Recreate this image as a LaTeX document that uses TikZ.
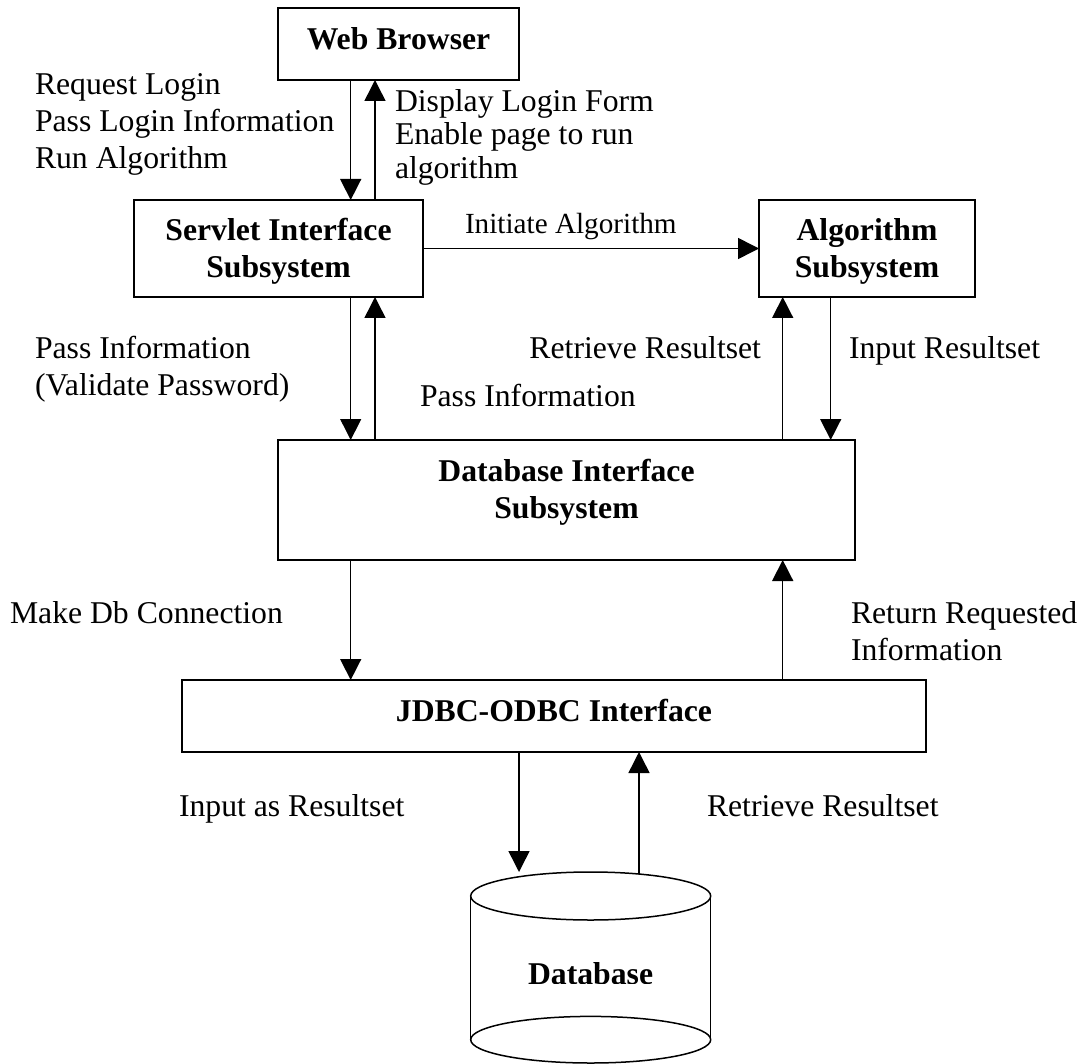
\documentclass[tikz,border=0pt]{standalone}
\usepackage{fontspec}
\setmainfont{Liberation Serif}
\usetikzlibrary{arrows.meta}
\newcommand\fsz[1]{\fontsize{31.7pt}{#1}\selectfont}
\newcommand\boxlines[2]{\raisebox{#1}[0pt][0pt]{\begin{tabular}[t]{@{}c@{}}#2\end{tabular}}}
\newcommand\leftlines[1]{\begin{tabular}[t]{@{}l@{}}#1\end{tabular}}
\tikzset{
  box/.style={draw, line width=1.5pt, inner sep=0pt, outer sep=0pt, font=\fsz{36.5pt}\bfseries},
  lbl/.style={inner sep=0pt, outer sep=0pt, anchor=base west},
  arr/.style={line width=1.5pt, -{Triangle[length=21pt,width=21pt]}},
  plain/.style={line width=1.5pt}
}
\begin{document}
\begin{tikzpicture}[x=1pt, y=-1pt, font=\fsz{36.7pt}]
\useasboundingbox (0,0) rectangle (1086,1064);

% boxes
\node[box, minimum width=241pt, minimum height=72pt] (wb) at (398.5,44) {\boxlines{-5.3pt}{Web Browser\hspace{12pt}}};
\node[box, minimum width=289pt, minimum height=97pt] (sis) at (278.5,248.5) {\boxlines{7.5pt}{Servlet Interface\\Subsystem}};
\node[box, minimum width=216pt, minimum height=97pt] (alg) at (867,248.5) {\boxlines{7.5pt}{Algorithm\\Subsystem}};
\node[box, minimum width=577pt, minimum height=120pt] (dbi) at (566.5,500) {\boxlines{18.3pt}{Database Interface\\Subsystem}};
\node[box, minimum width=744pt, minimum height=72pt] (jdbc) at (554,716) {\boxlines{-5.7pt}{JDBC-ODBC Interface}};

% database cylinder
\draw[plain] (470.7,896) -- (470.7,1039.7);
\draw[plain] (710.7,896) -- (710.7,1039.7);
\draw[plain] (590.7,896) ellipse [x radius=120, y radius=24];
\draw[plain] (590.7,1039.7) ellipse [x radius=120, y radius=23.3];
\begin{scope}
  \clip (480,940) rectangle (700,983.3);
  \node[inner sep=0pt, outer sep=0pt, anchor=base, font=\fsz{36pt}\bfseries] (db) at (590.6,984) {Database};
\end{scope}

% columns for connectors
\coordinate (xa) at (350.7,0);
\coordinate (xb) at (375,0);
\coordinate (xc) at (782.7,0);
\coordinate (xd) at (830.7,0);
\coordinate (dbin) at (519,872);
\coordinate (dbout) at (639,874);

% connectors
\draw[arr] (wb.south -| xa) -- (sis.north -| xa);
\draw[arr] (sis.north -| xb) -- (wb.south -| xb);
\draw[arr] (sis.east) -- (alg.west);
\draw[arr, line width=0.9pt] (sis.south -| xa) -- (dbi.north -| xa);
\draw[plain] (sis.south -| xa) -- ++(0,21);
\draw[arr] (dbi.north -| xb) -- (sis.south -| xb);
\draw[arr] (dbi.north -| xc) -- (alg.south -| xc);
\draw[arr] (alg.south -| xd) -- (dbi.north -| xd);
\draw[arr] (dbi.south -| xa) -- (jdbc.north -| xa);
\draw[arr] (jdbc.north -| xc) -- (dbi.south -| xc);
\draw[arr] (jdbc.south -| dbin) -- (dbin);
\draw[arr] (dbout) -- (jdbc.south -| dbout);

% labels
\node[lbl, font=\fsz{36.7pt}] (l1) at (35,95) {\leftlines{Request Login\\Pass Login Information\\Run Algorithm}};
\node[lbl, font=\fsz{33.2pt}] (l2) at (395,111.7) {\leftlines{Display Login Form\\Enable page to run\\algorithm}};
\node[lbl, font=\fontsize{29.2pt}{30pt}\selectfont] (l3) at (465,234) {Initiate Algorithm};
\node[lbl, font=\fsz{37pt}] (l4) at (35,358.3) {\leftlines{Pass Information\\(Validate Password)}};
\node[lbl, anchor=base east] (l5) at (761,358.3) {Retrieve Resultset};
\node[lbl] (l6) at (849,358.3) {Input Resultset};
\begin{scope}
  \clip (400,370) rectangle (660,406);
  \node[lbl] (l7) at (420,406.5) {Pass Information};
\end{scope}
\node[lbl] (l8) at (10,623) {Make Db Connection};
\node[lbl, font=\fsz{37pt}] (l9) at (851,623) {\leftlines{Return Requested\\Information}};
\node[lbl] (l10) at (179,816) {Input as Resultset};
\node[lbl] (l11) at (707,816) {Retrieve Resultset};
\end{tikzpicture}
\end{document}
